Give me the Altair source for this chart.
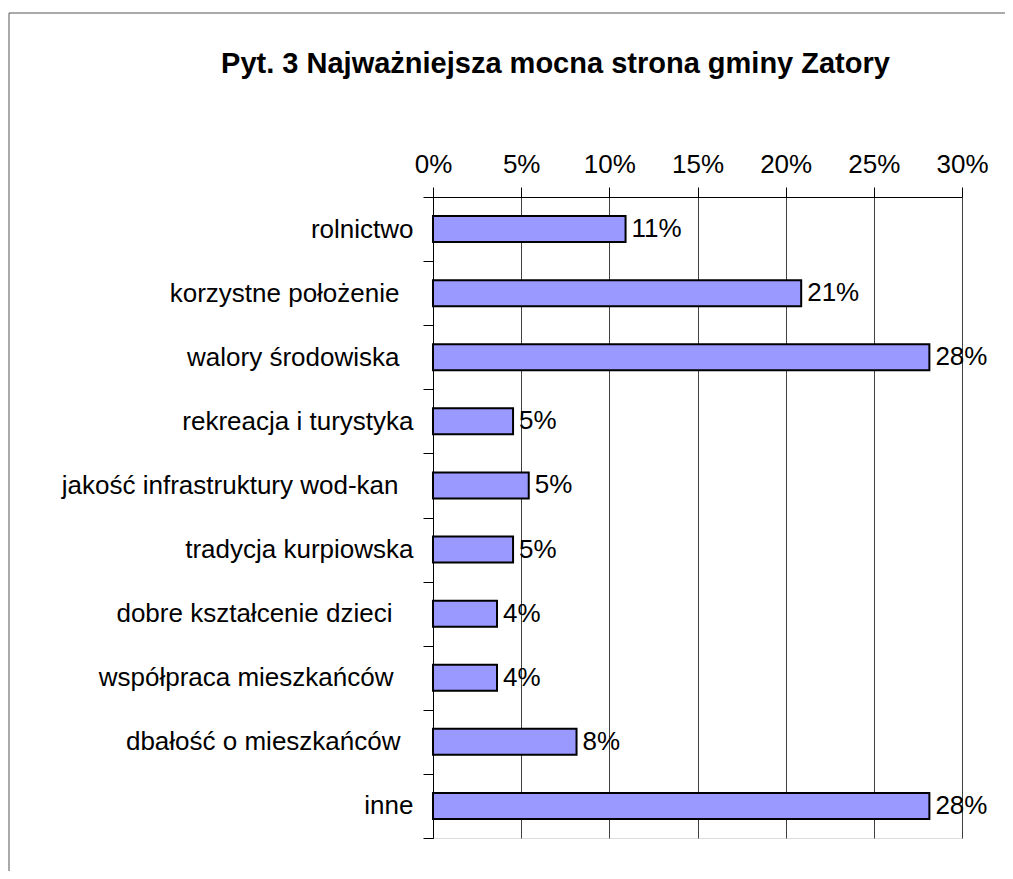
import altair as alt
import pandas as pd

categories = [
    "rolnictwo",
    "korzystne położenie",
    "walory środowiska",
    "rekreacja i turystyka",
    "jakość infrastruktury wod-kan",
    "tradycja kurpiowska",
    "dobre kształcenie dzieci",
    "współpraca mieszkańców",
    "dbałość o mieszkańców",
    "inne",
]
values = [0.1092, 0.2088, 0.2815, 0.0454, 0.0543, 0.0454, 0.0363, 0.0363, 0.0814, 0.2815]
x_ticks = [0, 0.05, 0.10, 0.15, 0.20, 0.25, 0.30]
title_text = "Pyt. 3 Najważniejsza mocna strona gminy  Zatory"
# extra gap after some labels (trailing spaces in the original labels)
label_gap = {
    "korzystne położenie": 24,
    "walory środowiska": 24,
    "jakość infrastruktury wod-kan": 25,
    "dobre kształcenie dzieci": 31,
    "współpraca mieszkańców": 30,
    "dbałość o mieszkańców": 23,
}

df = pd.DataFrame({"kat": categories, "val": values})
FONT = "Liberation Sans"
FS = 26

pad_cond = {
    "condition": [
        {"test": f"datum.value === '{k}'", "value": v} for k, v in label_gap.items()
    ],
    "value": 10,
}

y_enc = alt.Y(
    "kat:N",
    sort=categories,
    scale=alt.Scale(paddingInner=0, paddingOuter=0),
    axis=alt.Axis(
        title=None,
        orient="left",
        tickBand="extent",
        tickSize=10,
        tickColor="black",
        domainColor="black",
        labelFontSize=FS,
        labelFont=FONT,
        labelColor="black",
        labelPadding=pad_cond,
        labelLimit=600,
        grid=False,
    ),
)
x_enc = alt.X(
    "val:Q",
    scale=alt.Scale(domain=[0, 0.30], nice=False),
    axis=alt.Axis(
        title=None,
        orient="top",
        values=x_ticks,
        format=".0%",
        grid=True,
        gridColor="#404040",
        gridWidth=1,
        tickSize=10,
        tickColor="black",
        domainColor="black",
        labelFontSize=FS,
        labelFont=FONT,
        labelColor="black",
        labelPadding=10,
        labelFlush=False,
        labelOverlap=False,
    ),
)

bars = alt.Chart(df).mark_bar(
    size=26, color="#9999FF", stroke="black", strokeWidth=2
).encode(x=x_enc, y=y_enc)

labels = alt.Chart(df).mark_text(
    align="left", baseline="middle", dx=6, fontSize=FS, font=FONT, color="black"
).encode(x="val:Q", y=alt.Y("kat:N", sort=categories), text=alt.Text("val:Q", format=".0%"))

frame = alt.Chart(pd.DataFrame({"a": [0]})).mark_rect(
    filled=False, stroke="#555555", strokeWidth=1
).encode(
    x=alt.value(-424), x2=alt.value(3000), y=alt.value(-184), y2=alt.value(3000)
)

chart = alt.layer(frame, bars, labels).properties(
    width=529,
    height=641,
    autosize=alt.AutoSizeParams(type="none"),
    padding={"left": 425, "top": 189, "right": 43, "bottom": 33},
    title=alt.TitleParams(
        text=title_text,
        fontSize=29,
        font=FONT,
        fontWeight="bold",
        color="black",
        anchor="middle",
        baseline="alphabetic",
        dx=-142,
        offset=-89,
    ),
).configure_view(
    fill="#C0C0C0", stroke="#808080", strokeWidth=1
).configure(background="white")

chart.save("out.html", embed_options={"renderer": "svg", "actions": False})
